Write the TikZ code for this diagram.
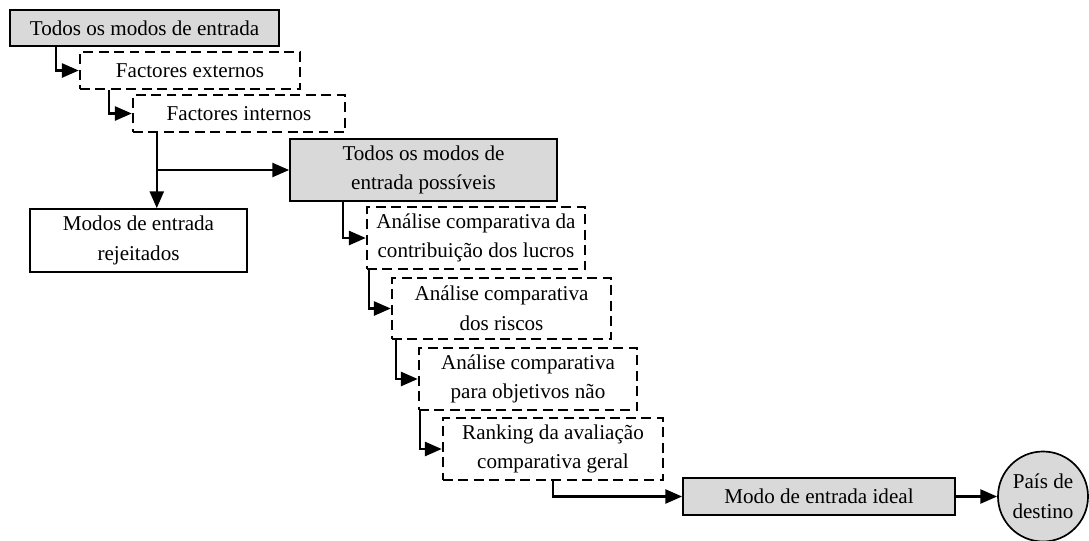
\documentclass[tikz,border=0pt]{standalone}
\usepackage{fontspec}
\setmainfont{Liberation Serif}
\usetikzlibrary{positioning, arrows.meta, calc}
\definecolor{boxgray}{RGB}{217,217,217}
\tikzset{
  block/.style={
    draw,
    rectangle,
    line width=1.2pt,
    inner sep=0pt,
    align=center,
    font=\fontsize{15}{21}\selectfont
  },
  greyblock/.style={
    block,
    fill=boxgray
  },
  dashblock/.style={
    block,
    line width=1.7pt,
    dash pattern=on 7pt off 4pt
  },
  link/.style={
    line width=1.7pt,
    -{Triangle[length=12pt,width=10pt]}
  }
}

\begin{document}
\begin{tikzpicture}[x=0.025cm, y=-0.025cm]
  \useasboundingbox (0,0) rectangle (1089,540);

  \node[greyblock, minimum width=6.725cm, minimum height=0.9cm] (todos) at (144.5,28) {Todos os modos de entrada};
  \node[dashblock, minimum width=5.5cm, minimum height=0.925cm] (ext) at (190,70.5) {Factores externos};
  \node[dashblock, minimum width=5.3cm, minimum height=0.925cm] (int) at (239,113.5) {Factores internos};
  \node[greyblock, minimum width=6.675cm, minimum height=1.55cm] (poss) at (423.5,170) {Todos os modos de\\entrada possíveis};
  \node[block, minimum width=5.425cm, minimum height=1.575cm] (rej) at (138.5,240.5) {Modos de entrada\\rejeitados};
  \node[dashblock, minimum width=5.45cm, minimum height=1.55cm] (lucros) at (476,238) {Análise comparativa da\\contribuição dos lucros};
  \node[dashblock, minimum width=5.475cm, minimum height=1.525cm] (riscos) at (501.5,308.5) {Análise comparativa\\dos riscos};
  \node[dashblock, minimum width=5.45cm, minimum height=1.55cm] (objet) at (528,379) {Análise comparativa\\para objetivos não};
  \node[dashblock, minimum width=5.5cm, minimum height=1.55cm] (rank) at (553,449) {Ranking da avaliação\\comparativa geral};
  \node[greyblock, minimum width=6.8cm, minimum height=0.925cm] (ideal) at (819,496.5) {Modo de entrada ideal};
  \node[greyblock, circle, minimum size=2.25cm] (dest) at (1043,496.5) {País de\\destino};

  % escada de filtros
  \draw[link] ($(todos.south west)+(47,0)$) |- (ext.west);
  \draw[link] ($(ext.south west)+(30,0)$) |- (int.west);
  \coordinate (intfoot) at ($(int.south west)+(25,0)$);
  \coordinate (split) at (intfoot |- poss.west);
  \draw[line width=1.7pt] (intfoot) -- (split);
  \draw[link] (split) -- (split |- rej.north);
  \draw[link] (split) -- (poss.west);

  % avaliação dos modos possíveis
  \draw[link] ($(poss.south west)+(54,0)$) |- (lucros.west);
  \draw[link] ($(lucros.south west)+(3,0)$) |- (riscos.west);
  \draw[link] ($(riscos.south west)+(5,0)$) |- (objet.west);
  \draw[link] ($(objet.south west)+(2,0)$) |- (rank.west);
  \draw[link] (rank.south) |- (ideal.west);
  \draw[link] (ideal.east) -- (dest.west);
\end{tikzpicture}
\end{document}
